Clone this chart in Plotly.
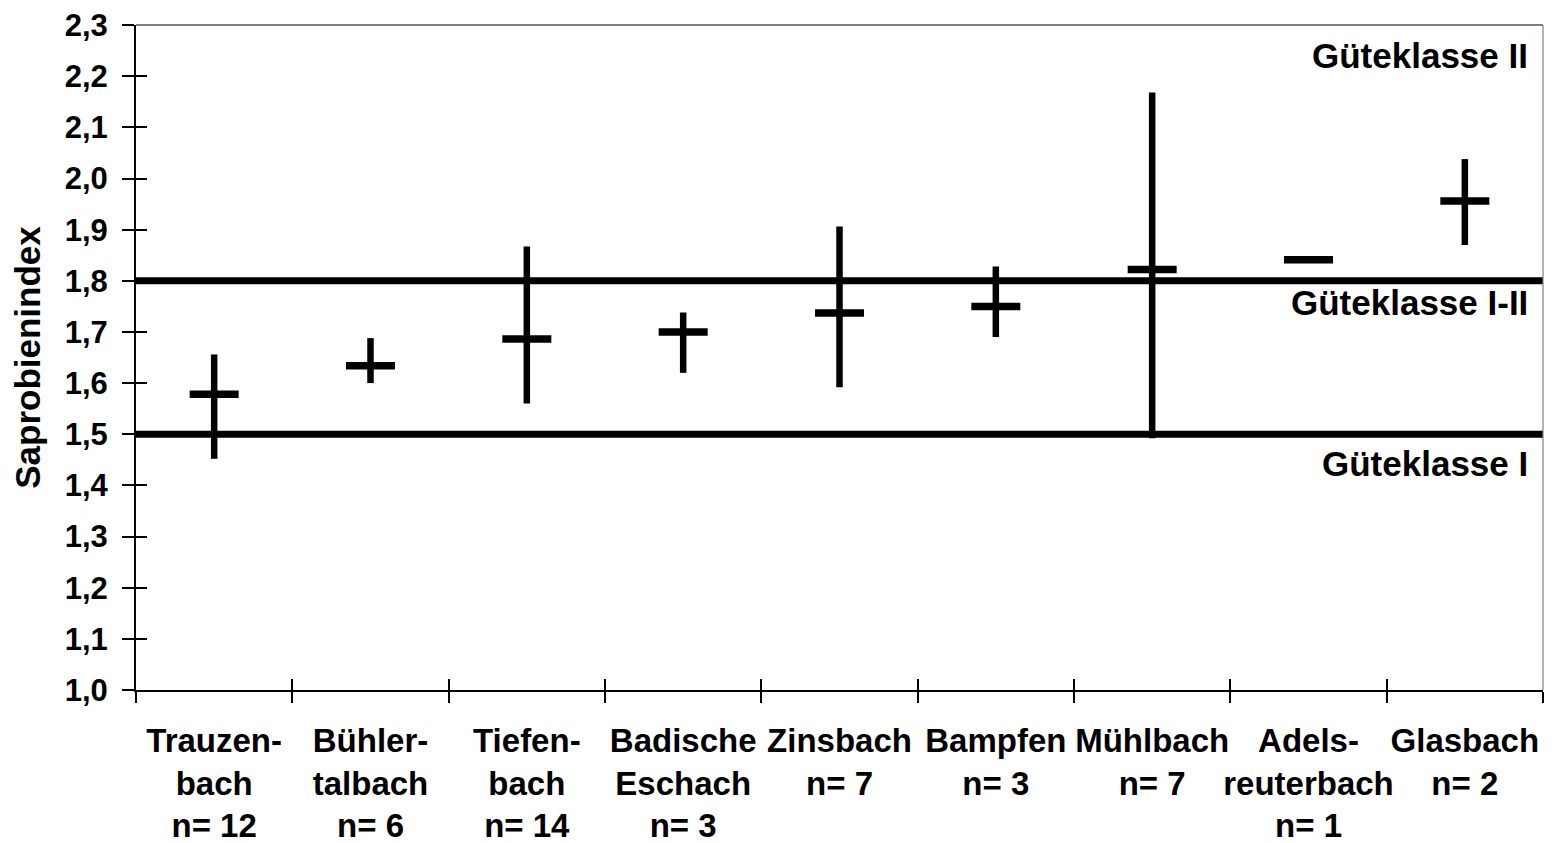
import plotly.graph_objects as go

categories = ["Trauzen-<br>bach<br>n= 12", "Bühler-<br>talbach<br>n= 6", "Tiefen-<br>bach<br>n= 14",
              "Badische<br>Eschach<br>n= 3", "Zinsbach<br>n= 7", "Bampfen<br>n= 3",
              "Mühlbach<br>n= 7", "Adels-<br>reuterbach<br>n= 1", "Glasbach<br>n= 2"]
means = [1.578, 1.634, 1.686, 1.700, 1.737, 1.750, 1.822, 1.841, 1.956]
mins = [1.452, 1.600, 1.560, 1.620, 1.592, 1.690, 1.492, None, 1.870]
maxs = [1.656, 1.688, 1.867, 1.738, 1.906, 1.828, 2.168, None, 2.038]
class_limits = [1.8, 1.5]
class_labels = ["Güteklasse II", "Güteklasse I-II", "Güteklasse I"]
class_label_y = [2.24, 1.757, 1.443]
y_ticks = [1.0, 1.1, 1.2, 1.3, 1.4, 1.5, 1.6, 1.7, 1.8, 1.9, 2.0, 2.1, 2.2, 2.3]

err_plus = [(mx - m) if mx is not None else 0 for m, mx in zip(means, maxs)]
err_minus = [(m - mn) if mn is not None else 0 for m, mn in zip(means, mins)]

FONT = "Liberation Sans, Arial, sans-serif"

fig = go.Figure()
fig.add_trace(go.Scatter(
    x=categories, y=means, mode="markers",
    marker=dict(symbol="line-ew", size=35, color="black", line=dict(color="black", width=7.5)),
    error_y=dict(type="data", symmetric=False, array=err_plus, arrayminus=err_minus,
                 width=0, thickness=6.5, color="black"),
    showlegend=False, hoverinfo="skip", cliponaxis=False,
))
# invisible trace for the overlay axes (inside ticks)
fig.add_trace(go.Scatter(x=categories, y=means, mode="markers", marker=dict(opacity=0),
                         xaxis="x2", yaxis="y2", showlegend=False, hoverinfo="skip"))

for v in class_limits:
    fig.add_shape(type="line", xref="paper", x0=0, x1=1, yref="y", y0=v, y1=v,
                  line=dict(color="black", width=7), layer="below")

# top and right frame
fig.add_shape(type="line", xref="paper", yref="paper", x0=0, x1=1, y0=1, y1=1,
              line=dict(color="black", width=1.2))
fig.add_shape(type="line", xref="paper", yref="paper", x0=1, x1=1, y0=0, y1=1,
              line=dict(color="#808080", width=1.2))

for txt, yy in zip(class_labels, class_label_y):
    fig.add_annotation(text=txt, xref="paper", x=1, xshift=-13, xanchor="right",
                       yref="y", y=yy, yanchor="middle", showarrow=False,
                       font=dict(family=FONT, size=35, color="black", weight="bold"))

yrange = [0.9999, 2.3002]
xrange = [-0.5, len(categories) - 0.5]

fig.update_layout(
    width=1544, height=835,
    margin=dict(l=128, r=9, t=17, b=153),
    paper_bgcolor="white", plot_bgcolor="white",
    separators=",.",
    font=dict(family=FONT, size=33, color="black", weight="bold"),
    xaxis=dict(type="category", categoryorder="array", categoryarray=categories,
               range=xrange, showgrid=False, zeroline=False, automargin=False,
               showline=True, linecolor="black", linewidth=2,
               ticks="outside", ticklen=11, tickwidth=1.5, tickcolor="black",
               tickson="boundaries", ticklabelstandoff=20, tickangle=0,
               ticklabeloverflow="allow",
               tickfont=dict(family=FONT, size=33, color="black", weight="bold")),
    xaxis2=dict(type="category", categoryorder="array", categoryarray=categories,
                range=xrange, overlaying="x", showgrid=False, zeroline=False, automargin=False,
                showline=False, ticks="inside", ticklen=11, tickwidth=1.5, tickcolor="black",
                tickson="boundaries", showticklabels=False, anchor="y2", side="bottom"),
    yaxis=dict(range=yrange, tickvals=y_ticks, tickformat=".1f", automargin=False,
               showgrid=False, zeroline=False,
               showline=True, linecolor="black", linewidth=2,
               ticks="outside", ticklen=12, tickwidth=1.5, tickcolor="black",
               ticklabelstandoff=8, ticklabeloverflow="allow",
               tickfont=dict(family=FONT, size=31, color="black", weight="bold"),
               title=dict(text="Saprobienindex", standoff=18,
                          font=dict(family=FONT, size=35, color="black", weight="bold"))),
    yaxis2=dict(range=yrange, tickvals=y_ticks, overlaying="y", showgrid=False, zeroline=False,
                automargin=False,
                showline=False, ticks="inside", ticklen=11, tickwidth=1.5, tickcolor="black",
                showticklabels=False, anchor="x2", side="left"),
)

fig.write_html("out.html")
